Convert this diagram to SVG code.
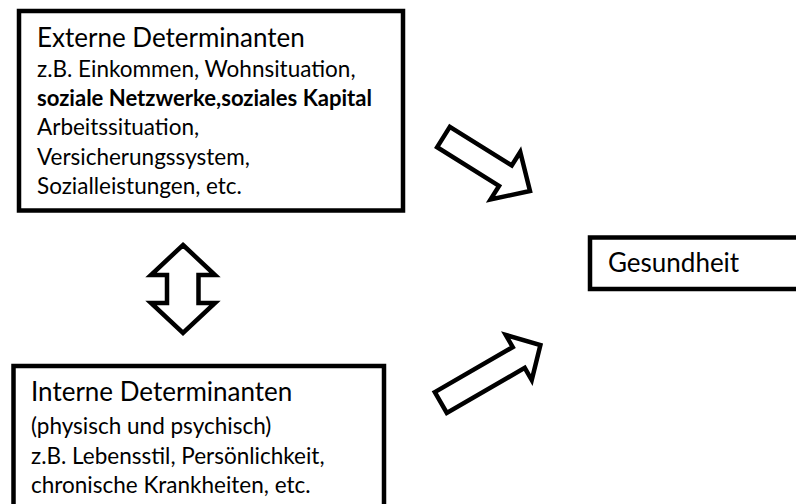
<svg xmlns="http://www.w3.org/2000/svg" width="796" height="504" viewBox="0 0 796 504">
<style>
.box{fill:#fff;stroke:#000;stroke-width:4.5}
.arr{fill:#fff;stroke:#000;stroke-width:4.5;stroke-linejoin:miter}
text{font-family:Lato,"Open Sans","Liberation Sans",sans-serif;fill:#000}
.h{font-size:26px}
.s{font-size:22.5px}
.b{font-weight:bold}
</style>
<rect width="796" height="504" fill="#fff"/>
<g id="externe">
<rect class="box" x="19" y="11" width="384" height="199.5"/>
<text class="h" x="37" y="47">Externe Determinanten</text>
<text class="s" x="37" y="77">z.B. Einkommen, Wohnsituation,</text>
<text class="s b" x="37" y="106" textLength="335" lengthAdjust="spacingAndGlyphs">soziale Netzwerke,soziales Kapital</text>
<text class="s" x="37" y="135">Arbeitssituation,</text>
<text class="s" x="37" y="165">Versicherungssystem,</text>
<text class="s" x="37" y="194">Sozialleistungen, etc.</text>
</g>
<g id="interne">
<rect class="box" x="13.5" y="366" width="370.5" height="150"/>
<text class="h" x="31" y="401">Interne Determinanten</text>
<text class="s" x="31" y="434">(physisch und psychisch)</text>
<text class="s" x="31" y="464">z.B. Lebensstil, Persönlichkeit,</text>
<text class="s" x="31" y="493">chronische Krankheiten, etc.</text>
</g>
<g id="gesundheit">
<rect class="box" x="590" y="237.5" width="230" height="51.5"/>
<text class="h" x="608" y="272">Gesundheit</text>
</g>
<g id="connectors">
<polygon class="arr" transform="translate(443.5,137) rotate(32)" points="0,-12 73,-12 73,-28 102,0 73,28 73,12 0,12"/>
<polygon class="arr" transform="translate(440.8,402.5) rotate(-30)" points="0,-12 90,-12 90,-26 115,0 90,26 90,12 0,12"/>
<polygon class="arr" points="183,245 215,275 198.5,275 198.5,303 215,303 183,333 151,303 167,303 167,275 151,275"/>
</g>
</svg>
